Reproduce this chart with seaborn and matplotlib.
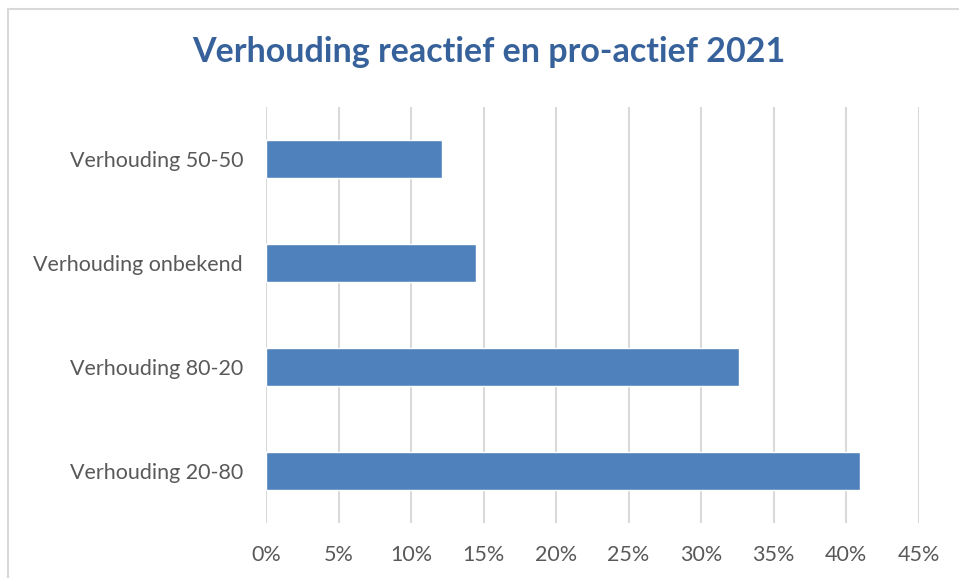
import matplotlib
matplotlib.use("Agg")
import matplotlib.pyplot as plt
import seaborn as sns
import pandas as pd
from matplotlib.ticker import FuncFormatter, MultipleLocator
from matplotlib.patches import Rectangle

categories = ["Verhouding 50-50", "Verhouding onbekend", "Verhouding 80-20", "Verhouding 20-80"]
values = [0.1215, 0.1445, 0.326, 0.4095]
title = "Verhouding reactief en pro-actief 2021"

df = pd.DataFrame({"cat": categories, "val": values})

sns.set_theme(style="white")
plt.rcParams['font.family'] = ['Lato', 'DejaVu Sans']

fig = plt.figure(figsize=(9.59, 5.78), dpi=100)
ax = fig.add_axes([266/959, 1-523/578, (918.7-266)/959, (523-107)/578])

sns.barplot(data=df, x="val", y="cat", orient="h", color="#4F81BD",
            saturation=1, width=0.36, ax=ax, zorder=3)

ax.set_xlim(0, 0.45)
ax.set_ylim(3.5, -0.5)
ax.xaxis.set_major_locator(MultipleLocator(0.05))
ax.xaxis.set_major_formatter(FuncFormatter(lambda v, p: f"{round(v*100)}%"))
ax.grid(axis="x", color="#D9D9D9", linewidth=1.5, zorder=0)
ax.grid(axis="y", visible=False)
for s in ax.spines.values():
    s.set_visible(False)
ax.set_xlabel("")
ax.set_ylabel("")
ax.tick_params(axis="both", length=0, colors="#595959", labelsize=15.5)
ax.tick_params(axis="x", pad=16)
ax.tick_params(axis="y", pad=16.5)

fig.text(489/959, 1-52/578, title, ha="center", va="center",
         fontsize=24.5, fontweight="bold", color="#36619A")

fig.patches.append(Rectangle((8/959, -0.1), 1.2, 1 - 9/578 + 0.1,
                             transform=fig.transFigure, fill=False,
                             edgecolor="#D9D9D9", linewidth=1.5))

fig.savefig("out.png", dpi=100)
